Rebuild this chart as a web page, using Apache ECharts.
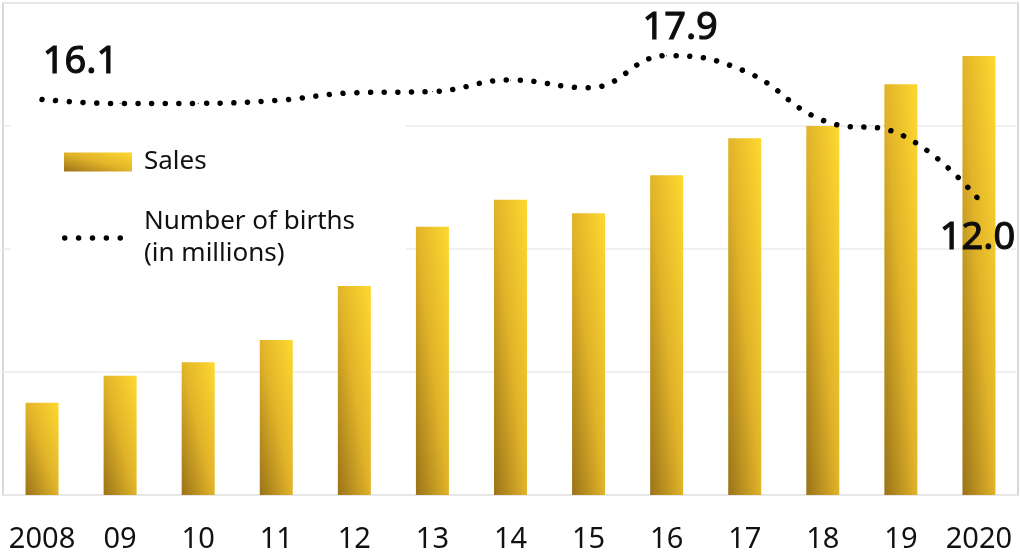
<!DOCTYPE html>
<html>
<head>
<meta charset="utf-8">
<script src="https://cdn.jsdelivr.net/npm/echarts@6/dist/echarts.min.js"></script>
<style>
  html, body { margin: 0; padding: 0; background: #fff; }
  #chart { width: 1020px; height: 554px; }
</style>
</head>
<body>
<div id="chart"></div>
<script>
(function () {
    "use strict";

    // categories and values
    var years = ['2008', '09', '10', '11', '12', '13', '14', '15', '16', '17', '18', '19', '2020'];
    var sales = [75, 97, 108, 126, 170, 218, 240, 229, 260, 290, 300, 334, 357];
    var births = [16.08, 15.91, 15.92, 16.04, 16.35, 16.40, 16.87, 16.55, 17.86, 17.23, 15.23, 14.65, 12.00];
    var labelledYears = { '2008': [39, -37], '16': [14, -27], '2020': [-1, 39] };

    var BAR_W = 33;
    var stops = [
        { offset: 0, color: '#9a7318' },
        { offset: 0.5, color: '#e1b329' },
        { offset: 1, color: '#fed930' }
    ];
    // diagonal gradient that scales with the shape (corner to corner)
    function shapeGradient(w, h) {
        var r2 = (w / h) * (w / h);
        return new echarts.graphic.LinearGradient(0, 1, 2 / (1 + r2), 1 - 2 * r2 / (1 + r2), stops);
    }

    var dotsIcon = 'path://M0,2.75a2.75,2.75 0 1,0 5.5,0a2.75,2.75 0 1,0 -5.5,0Z' +
        'M13.9,2.75a2.75,2.75 0 1,0 5.5,0a2.75,2.75 0 1,0 -5.5,0Z' +
        'M27.8,2.75a2.75,2.75 0 1,0 5.5,0a2.75,2.75 0 1,0 -5.5,0Z' +
        'M41.7,2.75a2.75,2.75 0 1,0 5.5,0a2.75,2.75 0 1,0 -5.5,0Z' +
        'M55.6,2.75a2.75,2.75 0 1,0 5.5,0a2.75,2.75 0 1,0 -5.5,0Z';

    var birthName = 'Number of births\n(in millions)';

    var birthData = births.map(function (v, i) {
        var off = labelledYears[years[i]];
        if (!off) return v;
        return {
            value: v,
            label: {
                show: true,
                position: off,
                align: 'center',
                verticalAlign: 'middle',
                formatter: function (p) { return p.value.toFixed(1); },
                fontFamily: 'Noto Sans',
                fontSize: 38,
                color: '#0d0d0d',
                textBorderColor: '#0d0d0d',
                textBorderWidth: 1.1
            }
        };
    });

    var chart = echarts.init(document.getElementById('chart'), null, { renderer: 'canvas' });
    var option = {
        animation: false,
        textStyle: { fontFamily: 'Noto Sans' },
        grid: {
            left: 3, right: 2, top: 3, bottom: 57,
            show: true,
            borderColor: '#d9d9d9',
            borderWidth: 2
        },
        legend: [{
            data: ['Sales'],
            left: 64, top: 149,
            padding: 0,
            icon: 'rect',
            itemWidth: 68, itemHeight: 19,
            selectedMode: false,
            textStyle: { fontSize: 26, color: '#111', padding: [0, 0, 0, 7] },
            z: 4
        }, {
            data: [birthName],
            left: 62, top: 206,
            padding: 0,
            itemWidth: 61, itemHeight: 5.5,
            icon: dotsIcon,
            selectedMode: false,
            itemStyle: { color: '#000', borderWidth: 0 },
            textStyle: { fontSize: 26, lineHeight: 32, color: '#111', padding: [0, 0, 0, 16] },
            z: 4
        }],
        graphic: [{
            type: 'rect',
            left: 11, top: 112,
            shape: { width: 395, height: 166 },
            style: { fill: '#fff' },
            z: 1
        }],
        xAxis: {
            type: 'category',
            data: years,
            axisLine: { show: false },
            axisTick: { show: false },
            axisLabel: { interval: 0, fontSize: 29, color: '#111', margin: 30 }
        },
        yAxis: [{
            type: 'value',
            min: 0, max: 400, interval: 100,
            axisLabel: { show: false },
            axisLine: { show: false },
            axisTick: { show: false },
            splitLine: { lineStyle: { color: '#ebebeb', width: 1.5 } }
        }, {
            type: 'value',
            min: 0, max: 20,
            show: false,
            splitLine: { show: false }
        }],
        series: [{
            name: 'Sales',
            type: 'bar',
            barWidth: BAR_W,
            data: sales,
            itemStyle: { color: shapeGradient(68, 19) },
            z: 2
        }, {
            name: birthName,
            type: 'line',
            yAxisIndex: 1,
            data: birthData,
            smooth: 0.45,
            symbol: 'circle',
            symbolSize: 1,
            itemStyle: { color: '#000' },
            lineStyle: { color: '#000', width: 5.5, type: [0.01, 13.7], cap: 'round' },
            z: 3
        }]
    };
    chart.setOption(option);

    // per-bar gradient sized to each bar's pixel height
    var base = chart.convertToPixel({ yAxisIndex: 0 }, 0);
    var barData = sales.map(function (v) {
        var h = base - chart.convertToPixel({ yAxisIndex: 0 }, v);
        return { value: v, itemStyle: { color: shapeGradient(BAR_W, h) } };
    });
    chart.setOption({ series: [{ name: 'Sales', data: barData }] });
})();
</script>
</body>
</html>
